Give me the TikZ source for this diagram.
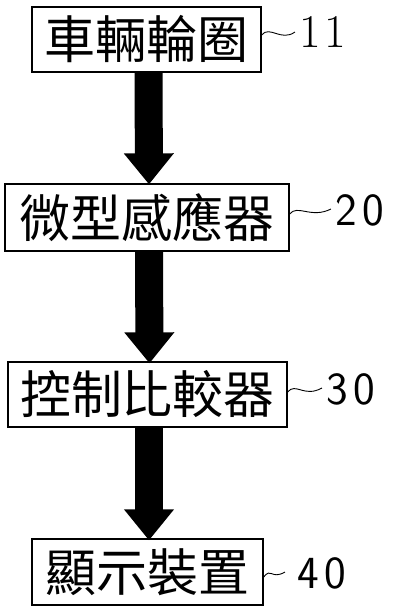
\documentclass[tikz,border=0pt]{standalone}
\usepackage{fontspec}
\newfontfamily\cjk{Noto Sans CJK TC}
\usetikzlibrary{arrows.meta}
\begin{document}
\begin{tikzpicture}[x=1pt,y=-1pt,
  box/.style={draw=black,line width=1.3pt,rectangle,inner sep=0pt,font=\cjk\fontsize{51}{51}\selectfont},
  flow/.style={line width=28pt,-{Triangle[width=48pt,length=31pt]}},
  refnum/.style={inner sep=0pt,anchor=west,font=\sffamily\fontsize{46}{46}\selectfont},
  lead/.style={line width=0.9pt}]
\useasboundingbox[fill=white] (0,0) rectangle (393,606);
\node[box,minimum width=229pt,minimum height=65pt] (b1) at (146.5,39.5) {車輛輪圈};
\node[box,minimum width=284pt,minimum height=67pt] (b2) at (147,217.5) {微型感應器};
\node[box,minimum width=279pt,minimum height=65pt] (b3) at (147.5,394.5) {控制比較器};
\node[box,minimum width=231pt,minimum height=66pt] (b4) at (147.5,572) {顯示裝置};
\draw[flow] ([xshift=2pt]b1.south) -- ([xshift=2pt,yshift=-1pt]b2.north);
\draw[flow] ([xshift=2pt]b2.south) -- ([xshift=2pt,yshift=-2pt]b3.north);
\draw[flow] ([xshift=1.5pt]b3.south) -- ([xshift=1.5pt,yshift=-2pt]b4.north);
\node[refnum,font=\rmfamily\fontsize{47}{47}\selectfont] (n1) at (299,32) {1\kern4pt1};
\node[refnum] (n2) at (335,210) {2\kern6pt0};
\node[refnum] (n3) at (326,389) {3\kern6pt0};
\node[refnum] (n4) at (297,573) {4\kern6pt0};
\draw[lead] (b1.east |- 0,35) .. controls +(8,-10) and +(-14,10) .. ([xshift=-4pt,yshift=0pt]n1.west);
\draw[lead] (b2.east |- 0,214) .. controls +(8,-10) and +(-20,10) .. ([xshift=-4pt,yshift=1pt]n2.west);
\draw[lead] (b3.east |- 0,392) .. controls +(8,-10) and +(-18,10) .. ([xshift=-4pt,yshift=1pt]n3.west);
\draw[lead] (b4.east |- 0,577) .. controls +(8,-10) and +(-14,8) .. ([xshift=-12pt,yshift=1pt]n4.west);
\end{tikzpicture}
\end{document}
